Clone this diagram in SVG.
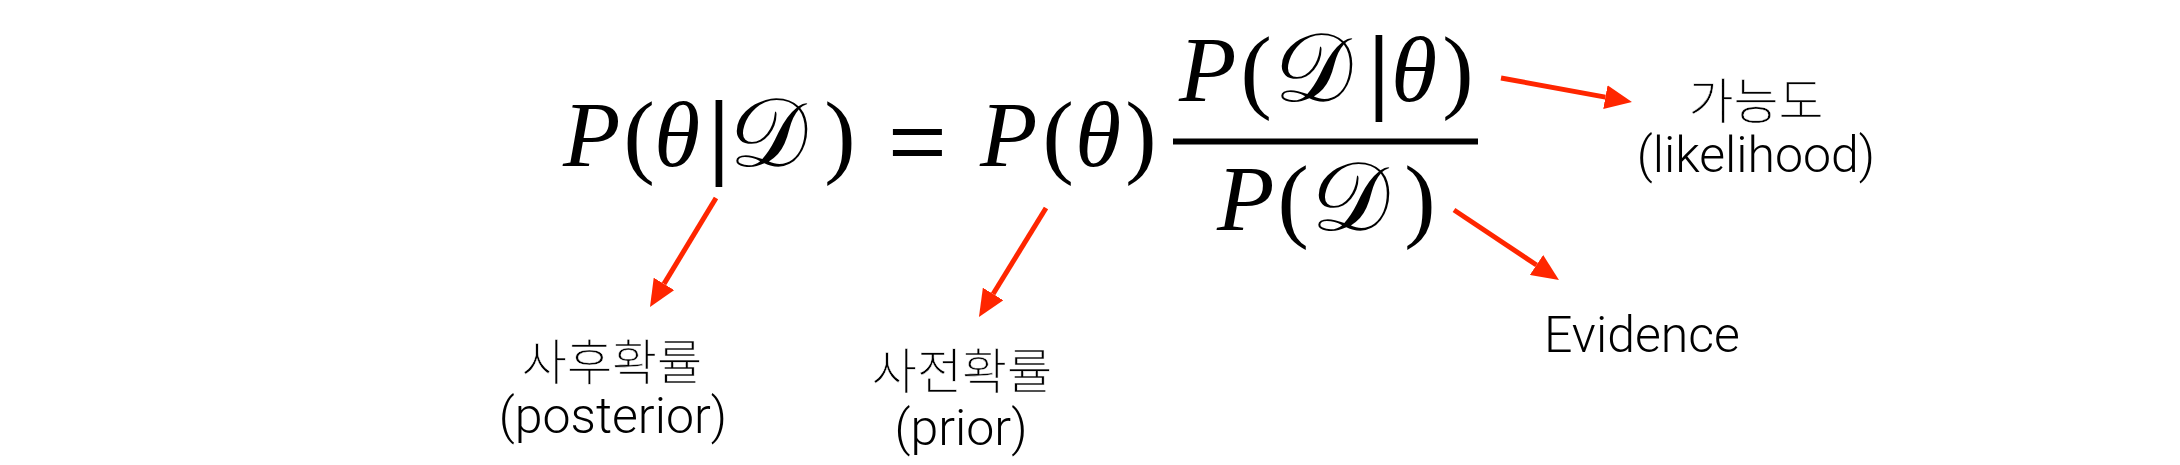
<svg xmlns="http://www.w3.org/2000/svg" width="2180" height="465" viewBox="0 0 2180 465">
  <style>
    .it { font-family: "Liberation Serif", "Times New Roman", serif; font-style: italic; font-size: 94px; fill: #000; }
    .rm { font-family: "Liberation Serif", "Times New Roman", serif; font-size: 94px; fill: #000; }
    .bar { font-family: "Liberation Serif", "Times New Roman", serif; font-size: 94px; fill: #000; stroke: #000; stroke-width: 2; }
    .cal { font-family: "DejaVu Serif", "Noto Sans Math", "Liberation Serif", serif; font-size: 94px; fill: #000; }
    .eq { font-family: "Liberation Sans", Arial, sans-serif; font-size: 84px; fill: #000; }
    .ko { font-family: "Noto Sans CJK KR Light", "Noto Sans CJK KR DemiLight", "Noto Sans CJK KR", sans-serif; font-weight: 300; font-size: 49px; fill: #000; text-anchor: middle; stroke: #fff; stroke-width: 0.5; }
    .la { font-family: Roboto, "Noto Sans", sans-serif; font-weight: 300; font-size: 50px; fill: #000; text-anchor: middle; }
    .arrow { stroke: #FF2600; stroke-width: 5; fill: none; marker-end: url(#head); }
  </style>
  <defs>
    <marker id="head" markerUnits="userSpaceOnUse" markerWidth="28" markerHeight="24" refX="0" refY="12" orient="auto" viewBox="0 0 28 24">
      <path d="M0,0 L27,12 L0,24 z" fill="#FF2600"/>
    </marker>
  </defs>
  <rect width="2180" height="465" fill="#fff"/>

  <g id="posterior-term">
    <text class="it" x="563" y="166">P</text>
    <text class="rm" x="623.5" y="166">(</text>
    <text class="it" x="654" y="166">θ</text>
    <text class="bar" x="709.6" y="166">|</text>
    <text class="cal" x="733" y="166">𝒟</text>
    <text class="rm" x="824.3" y="166">)</text>
  </g>

  <g id="equals">
    <text class="eq" transform="translate(893,0) scale(1.2,1)" x="-4.2" y="170.2">=</text>
  </g>

  <g id="prior-term">
    <text class="it" x="980" y="166">P</text>
    <text class="rm" x="1042.5" y="166">(</text>
    <text class="it" x="1075" y="166">θ</text>
    <text class="rm" x="1125.3" y="166">)</text>
  </g>

  <g id="likelihood-term">
    <text class="it" x="1179" y="101">P</text>
    <text class="rm" x="1240.5" y="101">(</text>
    <text class="cal" x="1278" y="101">𝒟</text>
    <text class="bar" x="1369.6" y="101">|</text>
    <text class="it" x="1391" y="101">θ</text>
    <text class="rm" x="1442.3" y="101">)</text>
  </g>

  <g id="fraction-bar">
    <line x1="1173" y1="141.5" x2="1478" y2="141.5" stroke="#000" stroke-width="6"/>
  </g>

  <g id="evidence-term">
    <text class="it" x="1217" y="230">P</text>
    <text class="rm" x="1277.5" y="230">(</text>
    <text class="cal" x="1315" y="230">𝒟</text>
    <text class="rm" x="1404.3" y="230">)</text>
  </g>

  <g id="label-posterior">
    <text class="ko" x="612" y="380">사후확률</text>
    <text class="la" x="613" y="433">(posterior)</text>
  </g>
  <g id="label-prior">
    <text class="ko" x="962" y="389">사전확률</text>
    <text class="la" x="961" y="445">(prior)</text>
  </g>
  <g id="label-likelihood">
    <text class="ko" x="1756" y="119">가능도</text>
    <text class="la" x="1756" y="172">(likelihood)</text>
  </g>
  <g id="label-evidence">
    <text class="la" x="1642" y="352">Evidence</text>
  </g>

  <g id="connectors">
    <line class="arrow" x1="716" y1="198" x2="664" y2="283.9"/>
    <line class="arrow" x1="1046" y1="208" x2="993.1" y2="294"/>
    <line class="arrow" x1="1501" y1="78" x2="1605.4" y2="97.1"/>
    <line class="arrow" x1="1454" y1="210" x2="1536.5" y2="265"/>
  </g>
</svg>
